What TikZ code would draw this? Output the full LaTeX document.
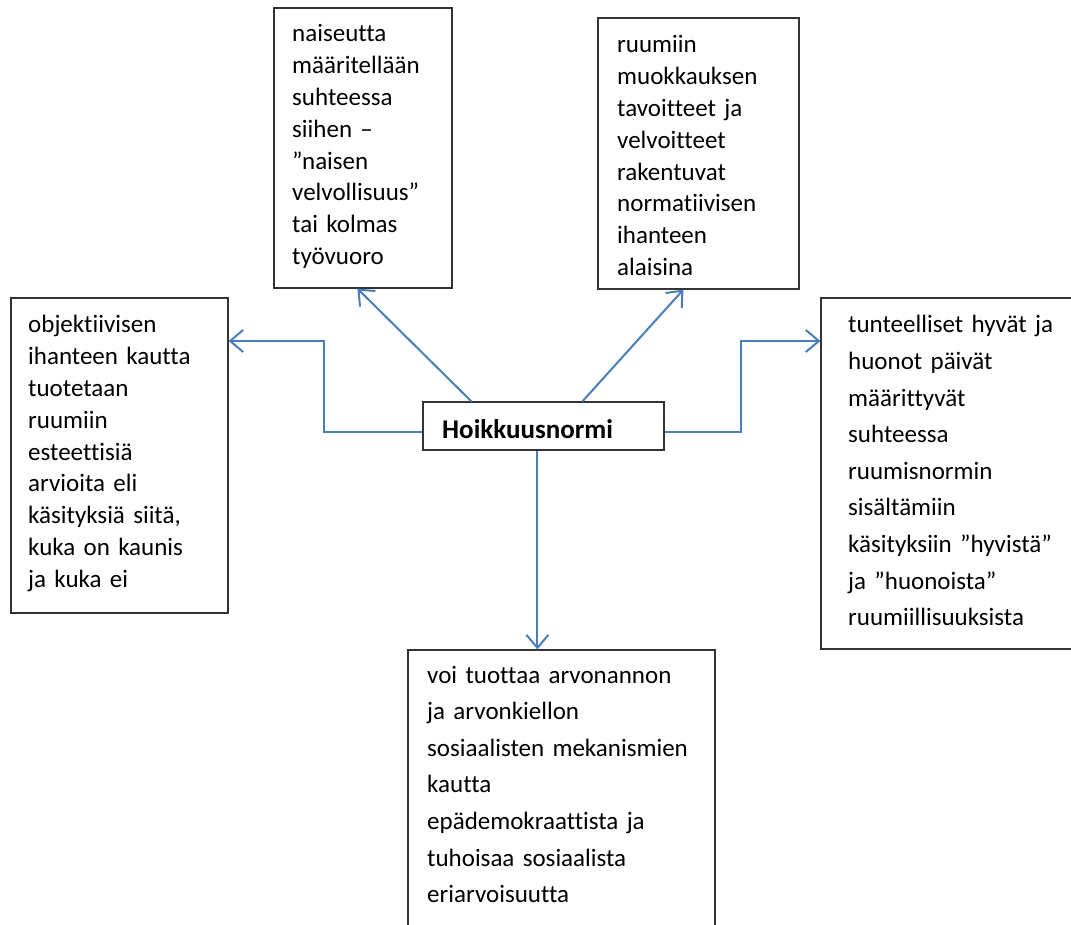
\documentclass[tikz,border=0pt]{standalone}
\usepackage{fontspec}
\setmainfont{Carlito}[Ligatures=NoCommon]
\usetikzlibrary{arrows.meta,calc}
\definecolor{linkblue}{HTML}{4A7EBB}
\definecolor{boxline}{HTML}{333333}
\tikzset{
  box/.style={draw=boxline, line width=1.2pt, inner sep=0pt, fill=white},
  conn/.style={draw=linkblue, line width=2pt, -{Straight Barb[length=13pt,width=22pt,line width=2pt]}},
  txt/.style={anchor=base west, inner sep=0pt, text width=340pt, align=left},
  tight/.style={font={\fontsize{25}{31.8}\selectfont}},
  loose/.style={font={\fontsize{25}{36.6}\selectfont}}
}
\begin{document}
\begin{tikzpicture}[x=1pt,y=-1pt]
\useasboundingbox[fill=white] (0,0) rectangle (1071,925);
% boxes
\node[box, minimum width=178pt, minimum height=280pt] (tl) at (363,148) {};
\node[box, minimum width=201pt, minimum height=271pt] (tr) at (698.5,153.5) {};
\node[box, minimum width=217pt, minimum height=315pt] (lb) at (119.5,455.5) {};
\node[box, minimum width=264pt, minimum height=351pt] (rb) at (953,473.5) {};
\node[box, minimum width=307pt, minimum height=290pt] (bb) at (561.5,795) {};
\node[box, minimum width=241pt, minimum height=48pt] (hub) at (543.5,426) {};
% texts
\node[txt, tight] (tltext) at (292,42) {naiseutta\\määritellään\\suhteessa\\siihen –\\”naisen\\velvollisuus”\\tai kolmas\\työvuoro};
\node[txt, tight] (trtext) at (617,53) {ruumiin\\muokkauksen\\tavoitteet ja\\velvoitteet\\rakentuvat\\normatiivisen\\ihanteen\\alaisina};
\node[txt, tight] (lbtext) at (28,333) {objektiivisen\\ihanteen kautta\\tuotetaan\\ruumiin\\esteettisiä\\arvioita eli\\käsityksiä siitä,\\kuka on kaunis\\ja kuka ei};
\node[txt, loose] (rbtext) at (848,333) {tunteelliset hyvät ja\\huonot päivät\\määrittyvät\\suhteessa\\ruumisnormin\\sisältämiin\\käsityksiin ”hyvistä”\\ja ”huonoista”\\ruumiillisuuksista};
\node[txt, loose] (bbtext) at (427,683) {voi tuottaa arvonannon\\ja arvonkiellon\\sosiaalisten mekanismien\\kautta\\epädemokraattista ja\\tuhoisaa sosiaalista\\eriarvoisuutta};
\node[anchor=base west, inner sep=0pt, font={\fontsize{27}{32}\selectfont\bfseries}] (hubtext) at (442,438) {Hoikkuusnormi};
% connectors
\coordinate (lturn1) at (324,432);
\coordinate (lturn2) at (324,341);
\coordinate (rturn1) at (741,432);
\coordinate (rturn2) at (741,341);
\draw[conn] ($(hub.west)+(0,6)$) -- (lturn1) -- (lturn2) -- (lb.east |- lturn2);
\draw[conn] ($(hub.east)+(0,6)$) -- (rturn1) -- (rturn2) -- (rb.west |- rturn2);
\draw[conn] ($(hub.north west)+(49,0)$) -- ($(tl.south west)+(84,0)$);
\draw[conn] ($(hub.north west)+(160,0)$) -- ($(tr.south west)+(86,0)$);
\draw[conn] ($(hub.south west)+(115,0)$) -- ($(bb.north west)+(130,0)$);
\end{tikzpicture}
\end{document}
